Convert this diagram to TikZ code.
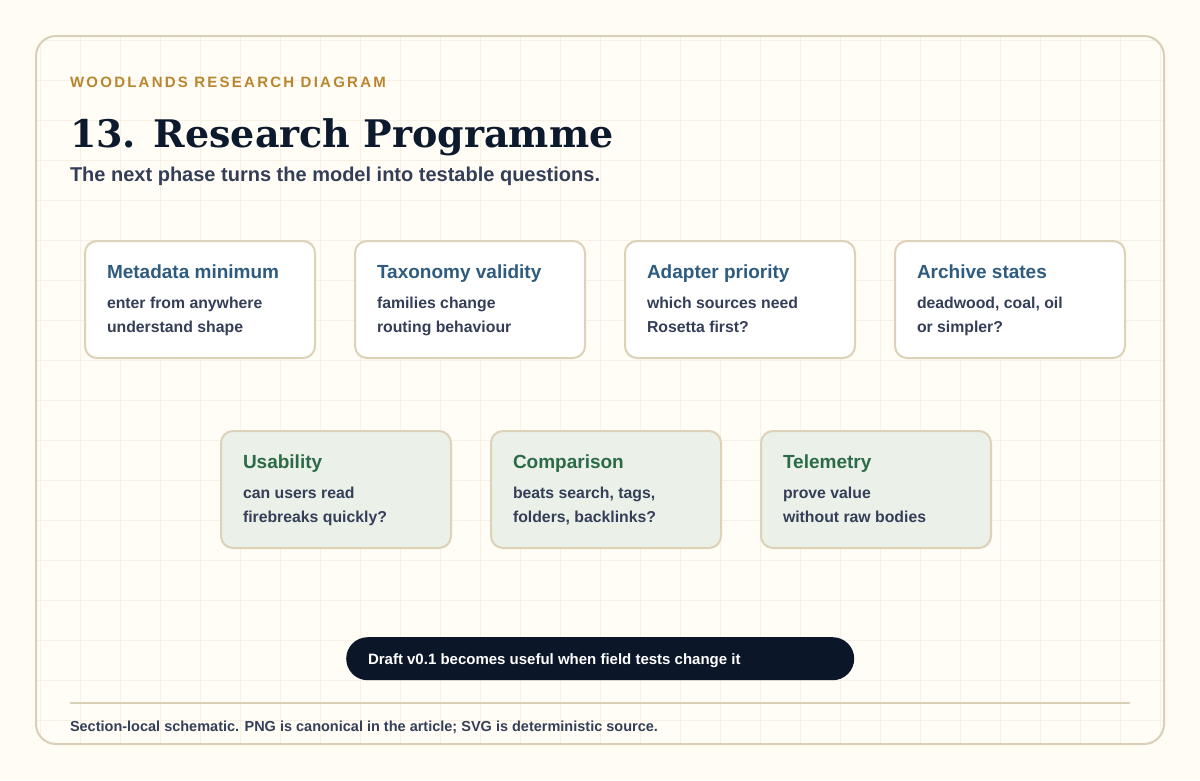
\documentclass[tikz,border=0pt]{standalone}
\usepackage{fontspec}
\setmainfont{Liberation Sans}
\newfontfamily\titlefont{DejaVu Serif}
\usetikzlibrary{positioning}
\definecolor{pagebg}{HTML}{FFFCF4}
\definecolor{framebg}{HTML}{FFFDF6}
\definecolor{gridc}{HTML}{F6F1E4}
\definecolor{framec}{HTML}{D9CEB6}
\definecolor{boxc}{HTML}{DDD1B8}
\definecolor{greenbg}{HTML}{EBF1E8}
\definecolor{bluet}{HTML}{2E5C80}
\definecolor{greent}{HTML}{2C6B48}
\definecolor{bodyt}{HTML}{343E58}
\definecolor{goldt}{HTML}{B8862F}
\definecolor{titlet}{HTML}{0D1A2E}
\definecolor{pillc}{HTML}{0B1629}
\tikzset{
  txt/.style={anchor=base west,inner sep=0pt,outer sep=0pt},
  qbox/.style={draw=boxc,line width=2pt,rounded corners=12pt,fill=white,
    minimum width=230pt,minimum height=117pt,anchor=north west,inner sep=0pt},
  gbox/.style={qbox,fill=greenbg},
  btitle/.style={txt,text=bluet,font=\bfseries\fontsize{19}{22}\selectfont},
  gtitle/.style={txt,text=greent,font=\bfseries\fontsize{19}{22}\selectfont},
  bbody/.style={txt,text=bodyt,font=\bfseries\fontsize{15.8}{24}\selectfont,align=left},
}
\begin{document}
\begin{tikzpicture}[x=1pt,y=-1pt]
\useasboundingbox (0,0) rectangle (1200,780);
\fill[pagebg] (0,0) rectangle (1200,780);
\node[draw=none,fill=framebg,rounded corners=20pt,minimum width=1128pt,minimum height=708pt,anchor=north west,inner sep=0pt] (frame) at (36,36) {};
\begin{scope}
\clip[rounded corners=20pt] (36,36) rectangle (1164,744);
\foreach \x in {40,80,...,1160} \draw[gridc,line width=0.7pt] (\x,36) -- (\x,744);
\foreach \y in {40,80,...,720} \draw[gridc,line width=0.7pt] (36,\y) -- (1164,\y);
\end{scope}
\draw[framec,line width=2pt,rounded corners=20pt] (36,36) rectangle (1164,744);

\node[txt,text=goldt,font=\bfseries\fontsize{15}{17}\selectfont\addfontfeature{LetterSpace=15}] (kicker) at (70,87) {WOODLANDS RESEARCH DIAGRAM};
\node[txt,text=titlet,font=\titlefont\bfseries\fontsize{38}{44}\selectfont] (title) at (70,147) {13. Research Programme};
\node[txt,text=bodyt,font=\bfseries\fontsize{20}{24}\selectfont] (subtitle) at (70,181) {The next phase turns the model into testable questions.};

% top row
\node[qbox] (b1) at (84,240) {};
\node[qbox] (b2) at (354,240) {};
\node[qbox] (b3) at (624,240) {};
\node[qbox] (b4) at (894,240) {};
\node[btitle] (t1) at (107,278) {Metadata minimum};
\node[btitle] (t2) at (377,278) {Taxonomy validity};
\node[btitle] (t3) at (647,278) {Adapter priority};
\node[btitle] (t4) at (917,278) {Archive states};
\node[bbody] (d1a) at (107,308) {enter from anywhere};
\node[bbody] (d1b) at (107,332) {understand shape};
\node[bbody] (d2a) at (377,308) {families change};
\node[bbody] (d2b) at (377,332) {routing behaviour};
\node[bbody] (d3a) at (647,308) {which sources need};
\node[bbody] (d3b) at (647,332) {Rosetta first?};
\node[bbody] (d4a) at (917,308) {deadwood, coal, oil};
\node[bbody] (d4b) at (917,332) {or simpler?};

% bottom row
\node[gbox] (g1) at (220,430) {};
\node[gbox] (g2) at (490,430) {};
\node[gbox] (g3) at (760,430) {};
\node[gtitle] (u1) at (243,468) {Usability};
\node[gtitle] (u2) at (513,468) {Comparison};
\node[gtitle] (u3) at (783,468) {Telemetry};
\node[bbody] (e1a) at (243,498) {can users read};
\node[bbody] (e1b) at (243,522) {firebreaks quickly?};
\node[bbody] (e2a) at (513,498) {beats search, tags,};
\node[bbody] (e2b) at (513,522) {folders, backlinks?};
\node[bbody] (e3a) at (783,498) {prove value};
\node[bbody] (e3b) at (783,522) {without raw bodies};

% pill
\node[fill=pillc,rounded corners=21.5pt,minimum width=508pt,minimum height=43pt,anchor=north west,inner sep=0pt] (pill) at (346,637) {};
\node[txt,text=white,font=\bfseries\fontsize{15}{18}\selectfont] (pilltext) at (368,664) {Draft v0.1 becomes useful when field tests change it};

\draw[framec,line width=2pt] (70,703) coordinate (ruleL) -- (1130,703) coordinate (ruleR);
\node[txt,text=bodyt,font=\bfseries\fontsize{14.5}{17}\selectfont] (footer) at (70,731) {Section-local schematic. PNG is canonical in the article; SVG is deterministic source.};
\end{tikzpicture}
\end{document}
